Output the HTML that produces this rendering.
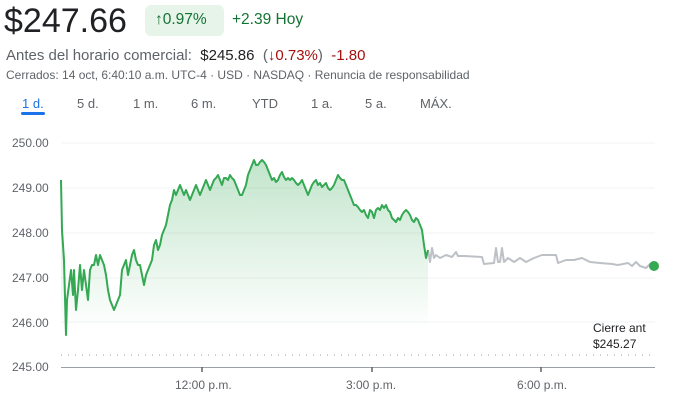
<!DOCTYPE html>
<html><head><meta charset="utf-8"><style>
body{margin:0;width:681px;height:404px;background:#fff;font-family:"Liberation Sans",Arial,sans-serif;position:relative;overflow:hidden}
.a{position:absolute;white-space:nowrap}
</style></head><body>
<div class="a" style="left:4px;top:2px;font-size:34px;color:#202124">$247.66</div>
<div class="a" style="left:145px;top:5px;width:79px;height:31px;background:#e6f4ea;border-radius:6px"></div>
<div class="a" style="left:155px;top:11px;font-size:15.5px;color:#137333">↑0.97%</div>
<div class="a" style="left:232px;top:11px;font-size:15.5px;color:#137333">+2.39 Hoy</div>
<div class="a" style="left:6px;top:47px;font-size:15px;color:#5f6368">Antes del horario comercial:&nbsp; <span style="color:#202124">$245.86</span> &nbsp;(<span style="color:#a50e0e">↓0.73%</span>)&nbsp; <span style="color:#a50e0e">-1.80</span></div>
<div class="a" style="left:6px;top:68px;font-size:12px;color:#5f6368">Cerrados: 14 oct, 6:40:10 a.m. UTC-4 · USD · NASDAQ · Renuncia de responsabilidad</div>
<div class="a" style="left:22px;top:96px;font-size:13px;color:#1a73e8">1 d.</div>
<div class="a" style="left:21px;top:112px;width:24px;height:3px;background:#1a73e8;border-radius:2px"></div>
<div class="a" style="left:77px;top:96px;font-size:13px;color:#5f6368">5 d.</div>
<div class="a" style="left:133px;top:96px;font-size:13px;color:#5f6368">1 m.</div>
<div class="a" style="left:191px;top:96px;font-size:13px;color:#5f6368">6 m.</div>
<div class="a" style="left:252px;top:96px;font-size:13px;color:#5f6368">YTD</div>
<div class="a" style="left:311px;top:96px;font-size:13px;color:#5f6368">1 a.</div>
<div class="a" style="left:365px;top:96px;font-size:13px;color:#5f6368">5 a.</div>
<div class="a" style="left:420px;top:96px;font-size:13px;color:#5f6368">MÁX.</div>
<svg class="a" style="left:0;top:0" width="681" height="404">
<defs><linearGradient id="g" x1="0" y1="160" x2="0" y2="330" gradientUnits="userSpaceOnUse"><stop offset="0" stop-color="#34a853" stop-opacity="0.3"/><stop offset="1" stop-color="#34a853" stop-opacity="0"/></linearGradient></defs>
<g stroke="#f1f3f4" stroke-width="1">
<line x1="61" y1="143" x2="655" y2="143"/><line x1="61" y1="188" x2="655" y2="188"/><line x1="61" y1="233" x2="655" y2="233"/><line x1="61" y1="278" x2="655" y2="278"/><line x1="61" y1="322" x2="655" y2="322"/></g>
<line x1="61" y1="355" x2="655" y2="355" stroke="#9aa0a6" stroke-dasharray="1 6"/>
<line x1="61" y1="367.5" x2="655" y2="367.5" stroke="#9aa0a6"/>
<g stroke="#5f6368" stroke-width="1.5"><line x1="202" y1="367" x2="202" y2="372"/><line x1="372" y1="367" x2="372" y2="372"/><line x1="541" y1="367" x2="541" y2="372"/></g>
<g font-size="12" fill="#5f6368"><text x="12" y="147">250.00</text><text x="12" y="192">249.00</text><text x="12" y="237">248.00</text><text x="12" y="282">247.00</text><text x="12" y="327">246.00</text><text x="12" y="371">245.00</text>
<text x="175" y="389">12:00 p.m.</text><text x="346" y="389">3:00 p.m.</text><text x="517" y="389">6:00 p.m.</text></g>
<text x="593" y="332" font-size="12" fill="#202124">Cierre ant</text><text x="593" y="348" font-size="12" fill="#202124">$245.27</text>
<polygon fill="url(#g)" points="61,330 61,180 62,230 64,260 66,335 67,300 69,285 71,270 73,295 74,270 76,310 78,290 80,265 82,290 84,270 86,285 88,300 90,270 92,265 94,265 96,255 98,265 100,255 102,260 104,265 106,275 108,290 110,300 112,305 114,310 116,305 118,300 120,295 122,270 124,265 126,260 128,275 130,265 132,255 134,250 136,260 138,265 140,265 142,275 144,285 146,275 148,270 150,265 152,260 154,245 156,240 158,250 160,245 162,235 164,230 166,225 168,215 170,205 172,200 174,190 176,195 178,190 180,185 182,190 184,195 186,190 188,195 190,200 192,195 194,190 196,185 198,190 200,195 202,190 204,185 206,180 208,185 210,190 212,185 214,180 216,178 218,175 220,180 222,185 224,178 226,178 228,180 230,175 232,178 234,180 236,185 238,190 240,195 242,195 244,190 246,185 248,175 250,170 252,165 254,160 256,165 258,165 260,162 262,160 264,162 266,165 268,170 270,175 272,180 274,178 276,182 278,180 280,175 282,172 284,177 286,180 288,178 290,180 292,178 294,180 296,183 298,185 300,183 302,180 304,185 306,190 308,195 310,190 312,185 314,182 316,180 318,185 320,183 322,187 324,185 326,183 328,188 330,190 332,188 334,185 336,180 338,175 340,178 342,180 344,180 346,185 348,190 350,195 352,200 354,205 356,205 358,207 360,210 362,212 364,210 366,215 368,218 370,210 372,212 374,218 376,210 378,208 380,210 382,205 384,208 386,205 388,210 390,212 392,218 394,220 396,222 398,218 400,220 402,215 404,212 406,210 408,212 410,215 412,220 414,222 416,218 418,220 420,225 422,230 424,245 426,258 428,250 428,330"/>
<polyline fill="none" stroke="#bdc1c6" stroke-width="2" stroke-linejoin="round" points="428,250 430,262 432,248 434,258 436,255 440,258 446,255 452,257 456,252 458,256 464,256 482,257 484,264 494,263 496,248 498,262 500,262 502,248 504,262 508,258 514,262 520,258 526,262 534,258 542,255 556,255 558,263 566,260 574,260 582,258 590,262 600,263 612,264 618,265 628,263 632,266 636,262 640,266 646,268 650,264 654,266"/>
<polyline fill="none" stroke="#34a853" stroke-width="2" stroke-linejoin="round" points="61,180 62,230 64,260 66,335 67,300 69,285 71,270 73,295 74,270 76,310 78,290 80,265 82,290 84,270 86,285 88,300 90,270 92,265 94,265 96,255 98,265 100,255 102,260 104,265 106,275 108,290 110,300 112,305 114,310 116,305 118,300 120,295 122,270 124,265 126,260 128,275 130,265 132,255 134,250 136,260 138,265 140,265 142,275 144,285 146,275 148,270 150,265 152,260 154,245 156,240 158,250 160,245 162,235 164,230 166,225 168,215 170,205 172,200 174,190 176,195 178,190 180,185 182,190 184,195 186,190 188,195 190,200 192,195 194,190 196,185 198,190 200,195 202,190 204,185 206,180 208,185 210,190 212,185 214,180 216,178 218,175 220,180 222,185 224,178 226,178 228,180 230,175 232,178 234,180 236,185 238,190 240,195 242,195 244,190 246,185 248,175 250,170 252,165 254,160 256,165 258,165 260,162 262,160 264,162 266,165 268,170 270,175 272,180 274,178 276,182 278,180 280,175 282,172 284,177 286,180 288,178 290,180 292,178 294,180 296,183 298,185 300,183 302,180 304,185 306,190 308,195 310,190 312,185 314,182 316,180 318,185 320,183 322,187 324,185 326,183 328,188 330,190 332,188 334,185 336,180 338,175 340,178 342,180 344,180 346,185 348,190 350,195 352,200 354,205 356,205 358,207 360,210 362,212 364,210 366,215 368,218 370,210 372,212 374,218 376,210 378,208 380,210 382,205 384,208 386,205 388,210 390,212 392,218 394,220 396,222 398,218 400,220 402,215 404,212 406,210 408,212 410,215 412,220 414,222 416,218 418,220 420,225 422,230 424,245 426,258 428,250"/>
<circle cx="654" cy="266" r="5" fill="#34a853"/>
</svg>
</body></html>
